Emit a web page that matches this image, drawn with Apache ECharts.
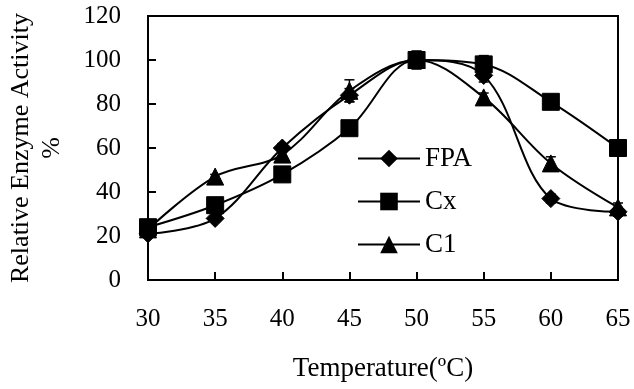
<!DOCTYPE html>
<html><head><meta charset="utf-8">
<script src="https://cdn.jsdelivr.net/npm/echarts@6/dist/echarts.min.js"></script>
<style>html,body{margin:0;padding:0;background:#fff}#c{width:634px;height:389px}</style>
</head><body><div id="c"></div>
<script>
var temps = [30, 35, 40, 45, 50, 55, 60, 65];
var fpa = [21, 28, 60, 84, 100, 93, 37, 31];
var cx  = [24, 34, 48, 69, 100, 98, 81, 60];
var c1  = [23, 47, 57, 86, 100, 83, 53, 33];
var fpaErr = [1, 1, 2, 3, 4, 3, 2, 2];
var cxErr  = [1, 2, 1, 1, 4, 4, 2, 1];
var c1Err  = [1, 1, 2, 5, 3, 2, 3, 2];
var yTicks = [0, 20, 40, 60, 80, 100, 120];

var FONT = '"Liberation Serif", "Times New Roman", serif';
function pairs(v){ return temps.map(function(t,i){ return [t, v[i]]; }); }
function errData(v,e){ return temps.map(function(t,i){ return [t, v[i]-e[i], v[i]+e[i]]; }); }
function errSeries(v,e){
  return {
    type:'custom', silent:true, z:1,
    data: errData(v,e),
    renderItem:function(params, api){
      var lo = api.coord([api.value(0), api.value(1)]);
      var hi = api.coord([api.value(0), api.value(2)]);
      var w = 5;
      var st = {stroke:'#000', lineWidth:1.5};
      return {type:'group', children:[
        {type:'line', shape:{x1:lo[0],y1:lo[1],x2:hi[0],y2:hi[1]}, style:st},
        {type:'line', shape:{x1:lo[0]-w,y1:lo[1],x2:lo[0]+w,y2:lo[1]}, style:st},
        {type:'line', shape:{x1:hi[0]-w,y1:hi[1],x2:hi[0]+w,y2:hi[1]}, style:st}
      ]};
    }
  };
}
function lineSeries(name, v, sym, size){
  return {
    name:name, type:'line', data:pairs(v), smooth:0.35,
    symbol:sym, symbolSize:size, showAllSymbol:true, z:3,
    lineStyle:{color:'#000', width:2},
    itemStyle:{color:'#000', borderColor:'#000'}
  };
}
var chart = echarts.init(document.getElementById('c'), null, {renderer:'canvas'});
chart.setOption({
  animation:false,
  backgroundColor:'#fff',
  textStyle:{fontFamily:FONT, color:'#000'},
  grid:{left:148, right:16, top:16, bottom:109, outerBoundsMode:'none', containLabel:false,
        show:true, borderColor:'#000', borderWidth:2, backgroundColor:'transparent'},
  legend:{
    orient:'vertical', left:357, top:145, padding:0, itemWidth:62, itemHeight:22, itemGap:16,
    textStyle:{fontFamily:FONT, fontSize:27, color:'#000'},
    data:['FPA','Cx','C1']
  },
  xAxis:{
    type:'value', min:30, max:65, interval:5,
    name:'Temperature(ºC)', nameLocation:'middle', nameGap:75,
    nameTextStyle:{fontFamily:FONT, fontSize:27, color:'#000'},
    axisLine:{lineStyle:{color:'#000', width:2}},
    axisTick:{inside:true, length:8, lineStyle:{color:'#000', width:2}},
    axisLabel:{fontFamily:FONT, fontSize:25, color:'#000', margin:27},
    splitLine:{show:false}
  },
  yAxis:{
    type:'value', min:0, max:120, interval:20,
    name:'Relative Enzyme Activity\n%', nameLocation:'middle', nameGap:80, nameRotate:90,
    nameTextStyle:{fontFamily:FONT, fontSize:26, color:'#000', lineHeight:31, align:'center'},
    axisLine:{lineStyle:{color:'#000', width:2}},
    axisTick:{inside:true, length:8, lineStyle:{color:'#000', width:2}},
    axisLabel:{fontFamily:FONT, fontSize:25, color:'#000', margin:27,
      formatter:function(v){ return yTicks.indexOf(v) >= 0 ? String(v) : ''; }},
    splitLine:{show:false}
  },
  series:[
    errSeries(fpa, fpaErr), errSeries(cx, cxErr), errSeries(c1, c1Err),
    lineSeries('FPA', fpa, 'diamond', 18),
    lineSeries('Cx', cx, 'rect', 17),
    lineSeries('C1', c1, 'triangle', 17)
  ]
});
</script></body></html>
